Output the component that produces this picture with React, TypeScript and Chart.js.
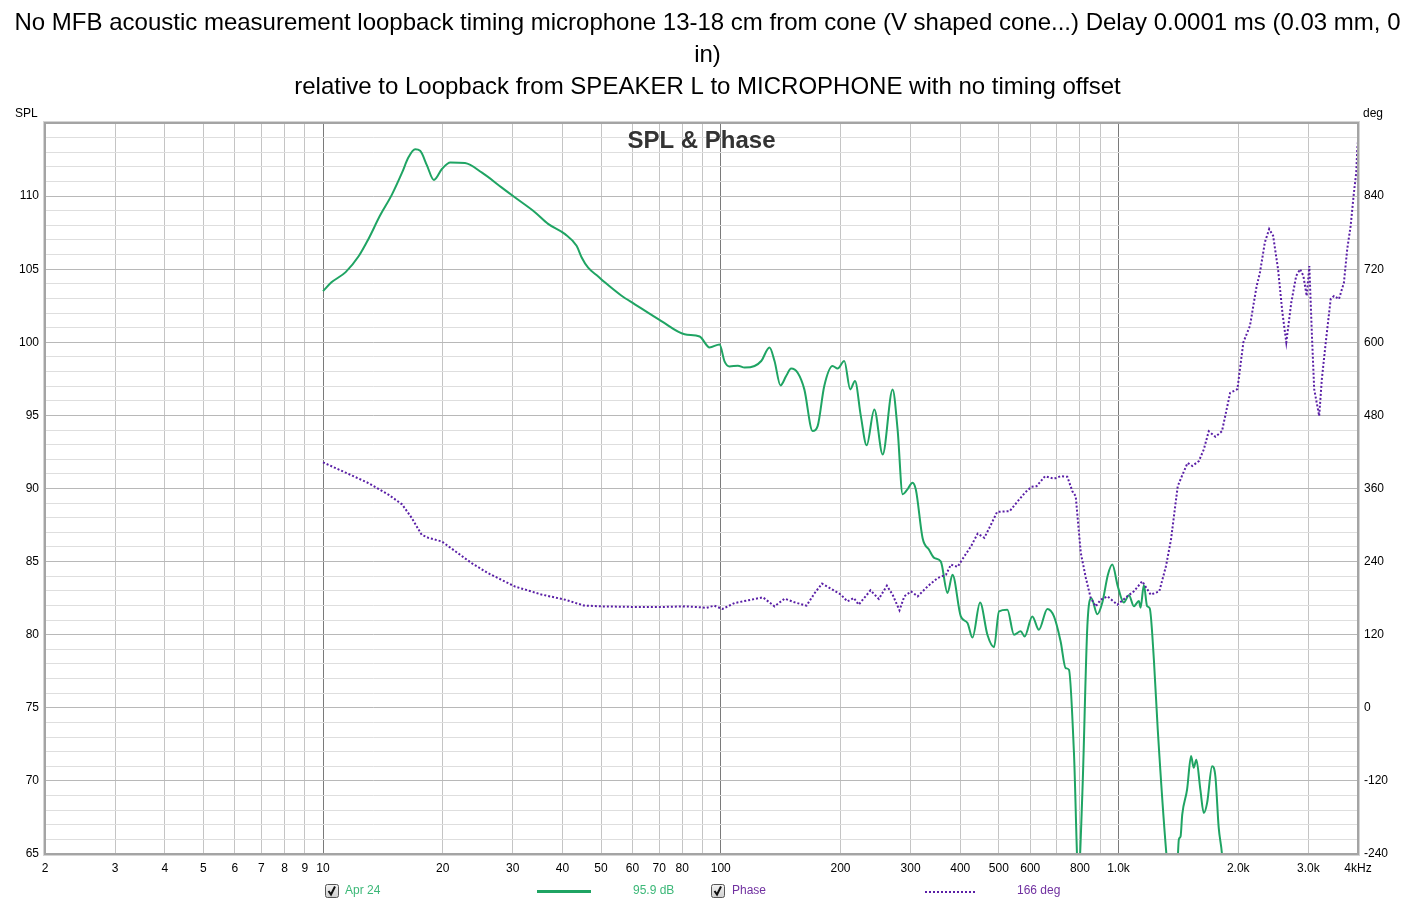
import React, { useEffect, useRef } from 'react';
import { Chart, registerables } from 'chart.js';

Chart.register(...registerables);

const TITLE_LINES = [
  'No MFB acoustic measurement loopback timing microphone 13-18 cm from cone (V shaped cone...) Delay 0.0001 ms (0.03 mm, 0',
  'in)',
  'relative to Loopback from SPEAKER L to MICROPHONE with no timing offset',
];
const PLOT_LABEL = 'SPL & Phase';
const LEFT_AXIS_NAME = 'SPL';
const RIGHT_AXIS_NAME = 'deg';

const X_TICKS = [2, 3, 4, 5, 6, 7, 8, 9, 10, 20, 30, 40, 50, 60, 70, 80, 90, 100, 200, 300, 400, 500, 600, 700, 800, 900, 1000, 2000, 3000, 4000];
const X_TICK_LABELS = ['2', '3', '4', '5', '6', '7', '8', '9', '10', '20', '30', '40', '50', '60', '70', '80', '', '100', '200', '300', '400', '500', '600', '', '800', '', '1.0k', '2.0k', '3.0k', '4kHz'];
const X_DECADES = [10, 100, 1000];

const SPL_LABELS = [65, 70, 75, 80, 85, 90, 95, 100, 105, 110];
const PHASE_LABELS = [-240, -120, 0, 120, 240, 360, 480, 600, 720, 840];

const LEGEND_NAMES = ['Apr 24', 'Phase'];
const LEGEND_VALUES = ['95.9 dB', '166 deg'];

const SPL_FREQ = [
  10, 10.5, 11.4, 12.3, 13.0, 13.9, 14.9, 15.8, 16.4, 17.05, 17.55, 18.25, 19.0, 19.9, 20.9, 22.75, 25.1, 28.1, 30.4, 34.1,
  36.8, 40.6, 43.4, 44.7, 46.4, 49.2, 51.1, 56.2, 60.8, 70.9, 81.1, 88.5, 93.7, 99.3, 102.2, 105.2, 110.4, 114.8, 121.6, 126.4,
  132.6, 136.5, 141.3, 146, 150.3, 156.2, 162.2, 170.2, 175.2, 182, 191, 196.7, 204.4, 211.6, 217.5, 225, 232.7, 243.2, 255.3, 270.4,
  278.3, 286.6, 294, 303.4, 309.5, 321.7, 334.2, 344.1, 357.5, 371.6, 382.5, 401.3, 417.1, 429.3, 448.7, 468.1, 486.4, 500.7, 525.4, 546,
  567.5, 580.7, 607, 630.7, 662.3, 688.2, 715.2, 736.2, 750.5, 772.6, 792.5, 811.2, 834.9, 854.5, 884.5, 910.5, 940.4, 964.5, 996, 1031,
  1062, 1093, 1125, 1136, 1158, 1180, 1198, 1227, 1255, 1324, 1370, 1405, 1418, 1432, 1446, 1487, 1522, 1545, 1569, 1606,
  1638, 1670, 1719, 1752, 1786, 1820, 1850,
];
const SPL_DB = [
  103.5, 104.1, 104.8, 105.9, 107.05, 108.65, 110.1, 111.6, 112.65, 113.2, 113.1, 112.1, 111.1, 111.85, 112.3, 112.26, 111.6, 110.6, 109.9, 108.9,
  108.1, 107.4, 106.6, 105.8, 105.1, 104.5, 104.1, 103.2, 102.6, 101.45, 100.55, 100.4, 99.65, 99.85, 98.7, 98.35, 98.4, 98.27, 98.38, 98.72,
  99.64, 98.72, 97.05, 97.69, 98.2, 97.9, 96.78, 93.93, 94.27, 97.0, 98.38, 98.2, 98.72, 96.78, 97.35, 94.95, 92.95, 95.41, 92.33, 96.78,
  94.04, 89.6, 89.9, 90.4, 89.9, 86.6, 85.8, 85.25, 85.0, 82.85, 84.1, 81.25, 80.8, 79.8, 82.2, 80.0, 79.15, 81.6, 81.7, 80.0,
  80.23, 79.88, 81.25, 80.34, 81.76, 81.25, 79.54, 77.72, 77.6, 71.9, 63.5, 69.2, 80.6, 82.5, 81.4, 82.2, 84.1, 84.8, 83.3, 82.2,
  82.7, 81.95, 82.3, 81.85, 83.4, 81.95, 81.8, 78.3, 73.5, 64.5, 61, 64, 66, 66.2, 67.7, 69.4, 71.7, 70.9, 71.45, 69.4,
  67.8, 68.5, 71.0, 70.3, 66.8, 65.0, 62,
];

const PHASE_FREQ = [
  10, 11.4, 13.0, 14.6, 15.8, 16.7, 17.7, 18.4, 19.9, 21.5, 23.7, 26.0, 30.4, 35.4, 40.6, 45.2, 50.1, 60.8, 70.9, 81.1,
  89.2, 91.8, 96.3, 101, 108.3, 117, 127.7, 136.5, 144.7, 153.5, 164.3, 172.3, 179.7, 189.8, 200.5, 208.1, 216, 222.2, 237.9, 249.7,
  261.6, 270.4, 281.4, 289.4, 300.8, 312.6, 331.3, 339.2, 351, 368.4, 379, 394, 409.5, 425.6, 442.5, 459.9, 478, 495.2, 532.4, 553.8,
  581.5, 604.5, 622.3, 653.4, 688.2, 715.2, 743.4, 765.5, 780.5, 803.7, 827.6, 851.2, 876.5, 902.2, 937.6, 993.7, 1051.8, 1092.9, 1146.7, 1204.9,
  1266.2, 1315.8, 1354.9, 1408.8, 1436, 1491, 1533, 1592, 1638, 1686, 1752, 1820, 1908, 1990, 2060, 2140, 2224, 2267, 2333, 2392,
  2447, 2518, 2582, 2641, 2718, 2797, 2862, 2916, 2972, 3018, 3064, 3104, 3195, 3244, 3319, 3415, 3481, 3582, 3687, 3758,
  3833, 3907, 3960, 3983, 4000,
];
const PHASE_DEG = [
  403, 386, 369, 350, 334, 312, 284, 279, 273, 257, 237, 221, 199, 186, 177.5, 168, 166.5, 165.5, 165.5, 166.5,
  165, 164, 167.7, 162.2, 172, 176.4, 181.3, 166.5, 179.2, 173, 167.7, 188.5, 203.8, 195, 185.7, 174.7, 180.3, 169.3, 192.8, 178.7,
  200.5, 185.7, 160, 183, 191, 183, 199.4, 205, 213, 218.6, 235, 231.3, 248.7, 265, 286, 279, 300.8, 321.7, 322.7, 336.5,
  353, 362.8, 363.8, 380.2, 376, 380.2, 379.2, 355.6, 347.3, 254.3, 213.2, 180.3, 166.5, 177.5, 183, 169.3, 183, 191.2, 207.6, 185.7,
  191.2, 232.3, 276.2, 363.8, 377, 402, 397, 405, 424, 454, 445, 454, 517, 523, 600, 627, 692, 714, 764, 786,
  775, 720, 649, 600, 665, 709, 720, 709, 676, 725, 610, 523, 479, 539, 600, 671, 676, 671, 698, 753,
  791, 846, 879, 917, 930,
];

const GREEN = '#1fa463';
const GREEN_TEXT = '#3cb878';
const PURPLE = '#5a1fa6';
const PURPLE_TEXT = '#7030a0';
const FONT = "'Liberation Sans', Arial, sans-serif";

function drawCheckbox(ctx: CanvasRenderingContext2D, x: number, y: number) {
  ctx.save();
  const g = ctx.createLinearGradient(x, y, x, y + 13);
  g.addColorStop(0, '#f4f4f4');
  g.addColorStop(1, '#d0d0d0');
  ctx.fillStyle = g;
  ctx.strokeStyle = '#555';
  ctx.lineWidth = 1;
  ctx.beginPath();
  ctx.roundRect(x + 0.5, y + 0.5, 13, 13, 2);
  ctx.fill();
  ctx.stroke();
  ctx.strokeStyle = '#111';
  ctx.lineWidth = 2;
  ctx.beginPath();
  ctx.moveTo(x + 3.5, y + 7);
  ctx.lineTo(x + 6, y + 10.5);
  ctx.lineTo(x + 10, y + 2.5);
  ctx.stroke();
  ctx.restore();
}

const extrasPlugin = {
  id: 'extras',
  beforeDraw(chart: any) {
    const ctx = chart.ctx as CanvasRenderingContext2D;
    ctx.save();
    ctx.fillStyle = '#ffffff';
    ctx.fillRect(0, 0, chart.width, chart.height);
    ctx.restore();
  },
  afterDraw(chart: any) {
    const ctx = chart.ctx as CanvasRenderingContext2D;
    const a = chart.chartArea;
    ctx.save();
    // frame
    ctx.strokeStyle = '#d4d4d4';
    ctx.lineWidth = 1;
    ctx.strokeRect(a.left - 1.5, a.top - 1.5, a.right - a.left + 3, a.bottom - a.top + 3);
    ctx.strokeStyle = '#a4a4a4';
    ctx.lineWidth = 2;
    ctx.strokeRect(a.left, a.top, a.right - a.left, a.bottom - a.top);

    // plot label
    ctx.fillStyle = '#333333';
    ctx.font = `bold 24px ${FONT}`;
    ctx.textAlign = 'center';
    ctx.textBaseline = 'middle';
    ctx.fillText(PLOT_LABEL, (a.left + a.right) / 2, a.top + 18);

    // axis names
    ctx.fillStyle = '#000';
    ctx.font = `12px ${FONT}`;
    ctx.textAlign = 'left';
    ctx.fillText(LEFT_AXIS_NAME, 15, a.top - 9);
    ctx.fillText(RIGHT_AXIS_NAME, a.right + 5, a.top - 9);

    // legend
    const ly = 891;
    ctx.font = `12px ${FONT}`;
    drawCheckbox(ctx, 325, 884);
    ctx.fillStyle = GREEN_TEXT;
    ctx.fillText(LEGEND_NAMES[0], 345, ly);
    ctx.strokeStyle = GREEN;
    ctx.lineWidth = 3;
    ctx.beginPath();
    ctx.moveTo(537, ly + 0.5);
    ctx.lineTo(591, ly + 0.5);
    ctx.stroke();
    ctx.fillText(LEGEND_VALUES[0], 633, ly);

    drawCheckbox(ctx, 711, 884);
    ctx.fillStyle = PURPLE_TEXT;
    ctx.fillText(LEGEND_NAMES[1], 732, ly);
    ctx.strokeStyle = PURPLE;
    ctx.lineWidth = 2;
    ctx.setLineDash([2, 2]);
    ctx.beginPath();
    ctx.moveTo(925, ly + 1);
    ctx.lineTo(976, ly + 1);
    ctx.stroke();
    ctx.setLineDash([]);
    ctx.fillText(LEGEND_VALUES[1], 1017, ly);
    ctx.restore();
  },
};

export default function App() {
  const canvasRef = useRef<HTMLCanvasElement | null>(null);

  useEffect(() => {
    const canvas = canvasRef.current;
    if (!canvas) return;
    const tickFont = { family: FONT, size: 12 };

    const chart = new Chart(canvas, {
      type: 'line',
      data: {
        datasets: [
          {
            label: LEGEND_NAMES[1],
            data: PHASE_FREQ.map((f, i) => ({ x: f, y: PHASE_DEG[i] })),
            yAxisID: 'y2',
            borderColor: PURPLE,
            borderWidth: 2,
            borderDash: [2, 2],
            pointRadius: 0,
            fill: false,
            tension: 0,
          },
          {
            label: LEGEND_NAMES[0],
            data: SPL_FREQ.map((f, i) => ({ x: f, y: SPL_DB[i] })),
            yAxisID: 'y',
            borderColor: GREEN,
            borderWidth: 2,
            pointRadius: 0,
            fill: false,
            cubicInterpolationMode: 'monotone',
          },
        ],
      },
      options: {
        responsive: false,
        animation: false,
        devicePixelRatio: 1,
        layout: { padding: 0 },
        plugins: {
          legend: { display: false },
          tooltip: { enabled: false },
          title: {
            display: true,
            text: TITLE_LINES,
            color: '#000',
            font: { family: FONT, size: 24, weight: 'normal', lineHeight: '32px' },
            padding: { top: 7, bottom: 20 },
          },
        },
        scales: {
          x: {
            type: 'logarithmic',
            min: 2,
            max: 4000,
            border: { display: false },
            afterBuildTicks: (scale: any) => {
              scale.ticks = X_TICKS.map((v) => ({ value: v }));
            },
            afterFit: (scale: any) => {
              scale.height = 52;
            },
            ticks: {
              autoSkip: false,
              maxRotation: 0,
              minRotation: 0,
              padding: 7,
              color: '#000',
              font: tickFont,
              callback: (value: any) => {
                const i = X_TICKS.indexOf(Number(value));
                return i >= 0 ? X_TICK_LABELS[i] : '';
              },
            },
            grid: {
              drawTicks: false,
              lineWidth: 1,
              color: (ctx: any) => {
                const v = ctx.tick ? ctx.tick.value : 0;
                if (v === 2 || v === 4000) return 'rgba(0,0,0,0)';
                return X_DECADES.includes(v) ? '#7a7a7a' : '#c4c4c4';
              },
            },
          },
          y: {
            type: 'linear',
            position: 'left',
            min: 65,
            max: 115,
            border: { display: false },
            afterBuildTicks: (scale: any) => {
              const t: any[] = [];
              for (let v = 65; v <= 115; v += 1) t.push({ value: v });
              scale.ticks = t;
            },
            afterFit: (scale: any) => {
              scale.width = 45;
            },
            ticks: {
              autoSkip: false,
              padding: 6,
              color: '#000',
              font: tickFont,
              callback: (value: any) => (SPL_LABELS.includes(Number(value)) ? String(value) : ''),
            },
            grid: {
              drawTicks: false,
              lineWidth: 1,
              color: (ctx: any) => {
                const v = ctx.tick ? ctx.tick.value : 0;
                if (v === 65 || v === 115) return 'rgba(0,0,0,0)';
                return v % 5 === 0 ? '#b8b8b8' : '#dedede';
              },
            },
          },
          y2: {
            type: 'linear',
            position: 'right',
            min: -240,
            max: 960,
            border: { display: false },
            afterBuildTicks: (scale: any) => {
              scale.ticks = PHASE_LABELS.map((v) => ({ value: v }));
            },
            afterFit: (scale: any) => {
              scale.width = 57;
            },
            ticks: {
              autoSkip: false,
              padding: 6,
              color: '#000',
              font: tickFont,
              callback: (value: any) => String(value),
            },
            grid: { display: false, drawTicks: false },
          },
        },
      } as any,
      plugins: [extrasPlugin],
    });

    return () => {
      chart.destroy();
    };
  }, []);

  return (
    <div style={{ position: 'absolute', left: 0, top: 0, width: 1415, height: 906, background: '#fff' }}>
      <canvas ref={canvasRef} width={1415} height={906} style={{ display: 'block', width: 1415, height: 906 }} />
    </div>
  );
}
